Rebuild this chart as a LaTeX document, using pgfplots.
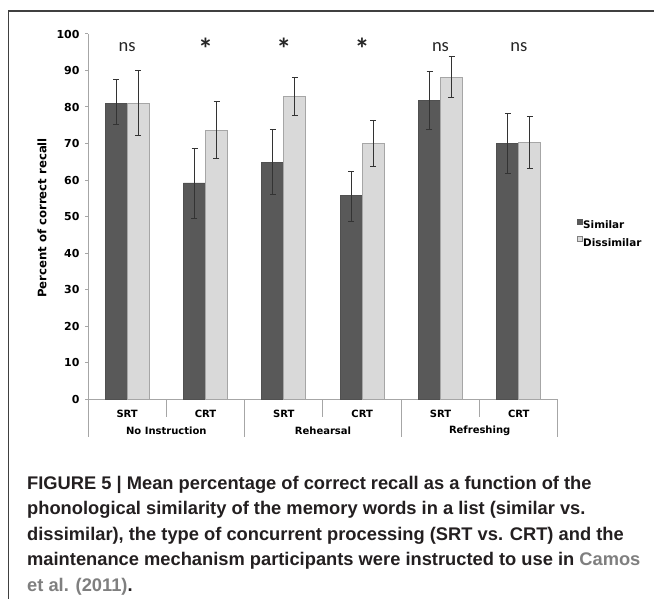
\documentclass[border=0pt]{standalone}
\usepackage{fontspec}
\setmainfont{DejaVu Sans}
\newfontfamily\capfont{Liberation Sans}
\newfontfamily\nsfont{Carlito}
\usepackage{pgfplots}
\pgfplotsset{compat=1.18}
\usepackage{pgfplotstable}

\definecolor{simdark}{HTML}{595959}
\definecolor{dislight}{HTML}{D9D9D9}
\definecolor{axisgray}{HTML}{A6A6A6}
\definecolor{errcol}{HTML}{333333}
\definecolor{citegray}{HTML}{7F7F7F}
\definecolor{captext}{HTML}{231F20}

% value, error above, error below
\pgfplotstableread{
x   y    ep  em
0.5 81.0 6.4 5.9
1.5 59.2 9.5 9.8
2.5 64.9 9.0 9.0
3.5 55.7 6.7 7.0
4.5 81.7 7.9 7.9
5.5 70.1 8.1 8.2
}\similar
\pgfplotstableread{
x   y    ep  em
0.5 81.0 8.9 8.7
1.5 73.5 7.9 7.5
2.5 83.0 5.0 5.2
3.5 70.0 6.3 6.2
4.5 88.1 5.7 5.6
5.5 70.2 7.2 7.1
}\dissimilar

\pgfplotsset{errstyle/.style={error bars/.cd, y dir=both, y explicit,
  error bar style={errcol, line width=1pt},
  error mark options={rotate=90, mark size=3pt, errcol, line width=1pt}}}

\begin{document}
\begin{tikzpicture}
\path[use as bounding box] (0,0) rectangle (654pt,-599pt);
\draw[line width=1.2pt, black!75] (8.5pt,-599pt) -- (8.5pt,-11pt) -- (654pt,-11pt);

\begin{axis}[
  at={(88pt,-399pt)}, anchor=south west,
  scale only axis, width=470pt, height=365pt,
  xmin=0, xmax=6, ymin=0, ymax=100,
  axis x line=bottom, axis y line=left,
  axis line style={-, axisgray, line width=1pt},
  ybar=0pt, bar width=22pt,
  xtick={0.5,1.5,2.5,3.5,4.5,5.5},
  xticklabels={SRT,CRT,SRT,CRT,SRT,CRT},
  x tick style={draw=none},
  ytick={0,10,...,100},
  y tick style={axisgray, line width=1pt},
  tick align=outside, major tick length=3pt,
  xticklabel style={font=\bfseries\fontsize{10}{12}\selectfont, yshift=-5pt},
  yticklabel style={font=\bfseries\fontsize{11}{13}\selectfont, xshift=-2pt},
  /pgf/number format/assume math mode=true,
  clip=false,
  legend style={at={(1,0.459)}, anchor=west, xshift=19pt, yshift=-2pt, draw=none, fill=none,
    font=\bfseries\fontsize{10.4}{12}\selectfont, row sep=5.5pt, inner sep=0pt,
    nodes={inner sep=0.5pt}},
  legend cell align=left,
]
\addplot[fill=simdark, draw=simdark!90!black, line width=0.8pt,
  legend image code/.code={\draw[fill=simdark, draw=simdark, line width=0.5pt] (0pt,1.5pt) rectangle (5pt,6.5pt);},
  errstyle]
  table[x=x, y=y, y error plus=ep, y error minus=em] {\similar};
\addplot[fill=dislight, draw=axisgray, line width=0.8pt,
  legend image code/.code={\draw[fill=dislight, draw=gray, line width=0.5pt] (0pt,1.5pt) rectangle (5pt,6.5pt);},
  errstyle]
  table[x=x, y=y, y error plus=ep, y error minus=em] {\dissimilar};
\legend{Similar, Dissimilar}

% category separators
\draw[axisgray, line width=1pt] (axis cs:1,0) -- ++(0pt,-18pt);
\draw[axisgray, line width=1pt] (axis cs:3,0) -- ++(0pt,-18pt);
\draw[axisgray, line width=1pt] (axis cs:5,0) -- ++(0pt,-18pt);
\draw[axisgray, line width=1pt] (axis cs:0,0) -- ++(0pt,-38pt);
\draw[axisgray, line width=1pt] (axis cs:2,0) -- ++(0pt,-38pt);
\draw[axisgray, line width=1pt] (axis cs:4,0) -- ++(0pt,-38pt);
\draw[axisgray, line width=1pt] (axis cs:6,0) -- ++(0pt,-38pt);

\begin{scope}[every node/.style={font=\bfseries\fontsize{10}{12}\selectfont}]
\node at (axis cs:1,0) [yshift=-32pt] {No Instruction};
\node at (axis cs:3,0) [yshift=-32pt] {Rehearsal};
\node at (axis cs:5,0) [yshift=-32pt] {Refreshing};
\end{scope}

\begin{scope}[every node/.style={text=black!85}]
\node[font=\nsfont\fontsize{18.5}{18}\selectfont, anchor=base] at (axis cs:0.5,95.3) {ns};
\node[font=\nsfont\bfseries\fontsize{30}{30}\selectfont, anchor=base] at (axis cs:1.5,93.0) {*};
\node[font=\nsfont\bfseries\fontsize{30}{30}\selectfont, anchor=base] at (axis cs:2.5,93.0) {*};
\node[font=\nsfont\bfseries\fontsize{30}{30}\selectfont, anchor=base] at (axis cs:3.5,93.0) {*};
\node[font=\nsfont\fontsize{18.5}{18}\selectfont, anchor=base] at (axis cs:4.5,95.3) {ns};
\node[font=\nsfont\fontsize{18.5}{18}\selectfont, anchor=base] at (axis cs:5.5,95.3) {ns};
\end{scope}
\end{axis}

\node[rotate=90, font=\bfseries\fontsize{11.7}{13}\selectfont] at (42pt,-218pt) {Percent of correct recall};

\begin{scope}[every node/.style={anchor=base west, inner sep=0pt, text=captext,
    font=\capfont\bfseries\fontsize{18.3}{26}\selectfont}]
\node at (27pt,-489pt) {FIGURE 5 | Mean percentage of correct recall as a function of the};
\node at (27pt,-514.5pt) {phonological similarity of the memory words in a list (similar vs.};
\node at (27pt,-540pt) {dissimilar), the type of concurrent processing (SRT vs. CRT) and the};
\node at (27pt,-565.5pt) {maintenance mechanism participants were instructed to use in {\color{citegray}Camos}};
\node at (27pt,-591pt) {{\color{citegray}et al. (2011)}.};
\end{scope}
\end{tikzpicture}
\end{document}
